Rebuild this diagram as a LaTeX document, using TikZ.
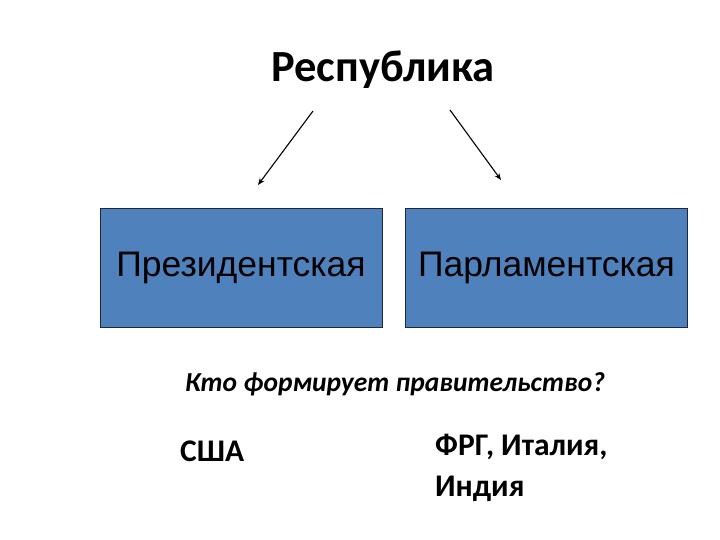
\documentclass[tikz,border=0pt]{standalone}
\usepackage{fontspec}
\setmainfont{Carlito}
\newfontfamily\boxfont{Liberation Sans}
\usepackage{tikz}
\usetikzlibrary{arrows.meta, positioning, calc}
\definecolor{boxblue}{RGB}{79,129,189}
\definecolor{boxedge}{RGB}{30,40,60}

\begin{document}
\begin{tikzpicture}[
    x=1pt, y=-1pt,
    kind/.style={rectangle, draw=boxedge, fill=boxblue, line width=0.9pt, minimum width=282pt, minimum height=119pt, inner sep=0pt, font=\boxfont\fontsize{35.5}{40}\selectfont},
    arrow/.style={-{Stealth[length=7pt, width=5.5pt]}, line width=1.1pt},
    label/.style={font=\fontsize{31.5}{41}\selectfont\bfseries, align=left, inner sep=0pt}
]
\useasboundingbox (0,0) rectangle (720,540);

% Title
\node[font=\fontsize{44.5}{50}\selectfont\bfseries, anchor=base] (rep) at (383,82) {Республика};

% Forms
\node[kind] (pres) at (241,268) {Президентская};
\node[kind] (parl) at (546.5,268) {Парламентская};

% Arrows
\coordinate (lstart) at (313,111);
\coordinate (lend) at (258,185);
\coordinate (rstart) at (450,110);
\coordinate (rend) at (501,180);
\draw[arrow] (lstart) -- (lend);
\draw[arrow] (rstart) -- (rend);

% Question and examples
\node[font=\fontsize{27.5}{33}\selectfont\bfseries\itshape, anchor=base] (ask) at (395,391) {Кто формирует правительство?};
\node[label, anchor=base west] (usa) at (180,461) {США};
\node[label, anchor=base west] (eur) at (435,496) {ФРГ, Италия,\\Индия};

\end{tikzpicture}
\end{document}
